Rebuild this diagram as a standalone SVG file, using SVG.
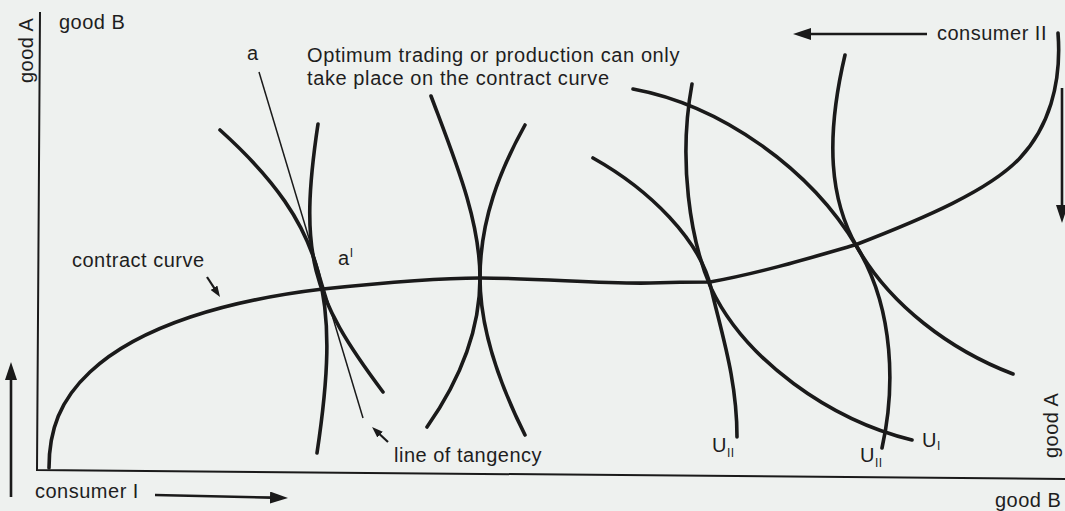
<svg xmlns="http://www.w3.org/2000/svg" width="1065" height="511" viewBox="0 0 1065 511">
<defs>
<style>
.txt{font-family:"Liberation Sans",Arial,sans-serif;font-size:20px;fill:#1e1e1e;letter-spacing:0.5px}
.curve{fill:none;stroke:#1a1a1a;stroke-width:3.6;stroke-linecap:round;stroke-linejoin:round}
.axis{fill:none;stroke:#1a1a1a;stroke-width:2}
.thin{fill:none;stroke:#1a1a1a;stroke-width:1.5}
.arrow-big{fill:none;stroke:#1a1a1a;stroke-width:2.6;marker-end:url(#ahBig)}
.arrow-sm{fill:none;stroke:#1a1a1a;stroke-width:2.2;marker-end:url(#ahSm)}
</style>
<marker id="ahBig" viewBox="0 0 18 12" markerWidth="18" markerHeight="12" refX="2" refY="6" orient="auto" markerUnits="userSpaceOnUse"><path d="M0,0 L18,6 L0,12 z" fill="#1a1a1a"/></marker>
<marker id="ahSm" viewBox="0 0 11 8" markerWidth="11" markerHeight="8" refX="2" refY="4" orient="auto" markerUnits="userSpaceOnUse"><path d="M0,0 L11,4 L0,8 z" fill="#1a1a1a"/></marker>
</defs>
<rect width="1065" height="511" fill="#eef1ef"/>

<g id="axes">
<path class="axis" d="M40,12 L37,470 L1065,479"/>
<text class="txt" x="59" y="29">good B</text>
<text class="txt" transform="translate(33,83) rotate(-90)">good A</text>
<text class="txt" transform="translate(1058,458) rotate(-90)">good A</text>
<text class="txt" x="995" y="507">good B</text>
<text class="txt" x="35" y="498">consumer I</text>
<text class="txt" x="937" y="40">consumer II</text>
</g>

<g id="contract-curve">
<path class="curve" d="M49,468 C49,430 60,400 90,372 C140,325 230,300 323,289 C380,283 440,278 480,278 C540,278 600,284 650,283 C680,282 695,282 710,282 C760,273 810,258 855,245 C925,218 990,190 1020,158 C1048,128 1062,85 1058,33"/>
<text class="txt" x="72" y="267">contract curve</text>
</g>

<g id="point-a">
<path class="curve" d="M220,130 C330,229 339.5,303 317,453"/>
<path class="curve" d="M318,124 C298.5,254 311,296 383,392"/>
<line class="thin" x1="259" y1="72" x2="363" y2="418"/>
<text class="txt" x="247" y="60">a</text>
<text class="txt" x="338" y="265">a<tspan font-size="12" dy="-8">I</tspan></text>
<text class="txt" x="394" y="462">line of tangency</text>
</g>

<g id="middle-pair">
<path class="curve" d="M431,96 C455,160 480,220 480,278 C480,330 460,380 427,427"/>
<path class="curve" d="M525,125 C500,170 480,220 480,278 C480,330 500,385 525,435"/>
</g>

<g id="pair-1">
<path class="curve" d="M593,158 C650,190 700,240 711,288 C722,335 737,380 737,437"/>
<path class="curve" d="M692,84 C678,160 690,240 711,288 C745,360 830,420 912,440"/>
<text class="txt" x="712" y="452">U<tspan font-size="12" dy="5">II</tspan></text>
<text class="txt" x="922" y="447">U<tspan font-size="12" dy="3">I</tspan></text>
</g>

<g id="pair-2">
<path class="curve" d="M633,89 C720,105 810,168 857,247 C895,310 895,390 882,448"/>
<path class="curve" d="M845,55 C825,140 830,200 857,247 C890,305 950,350 1013,374"/>
<text class="txt" x="860" y="462">U<tspan font-size="12" dy="5">II</tspan></text>
</g>

<g id="note">
<text class="txt" x="307" y="62" style="letter-spacing:0.6px">Optimum trading or production can only</text>
<text class="txt" x="307" y="85" style="letter-spacing:0.6px">take place on the contract curve</text>
</g>

<g id="connectors">
<line class="arrow-big" x1="927" y1="34" x2="809" y2="34"/>
<line class="arrow-big" x1="155" y1="495" x2="272" y2="497.6"/>
<line class="arrow-big" x1="11" y1="497" x2="11" y2="378"/>
<line class="arrow-big" x1="1062" y1="88" x2="1062" y2="207"/>
<line class="arrow-sm" x1="207" y1="277" x2="215.1" y2="289.4"/>
<line class="arrow-sm" x1="388" y1="442" x2="378.6" y2="433.2"/>
</g>
</svg>
